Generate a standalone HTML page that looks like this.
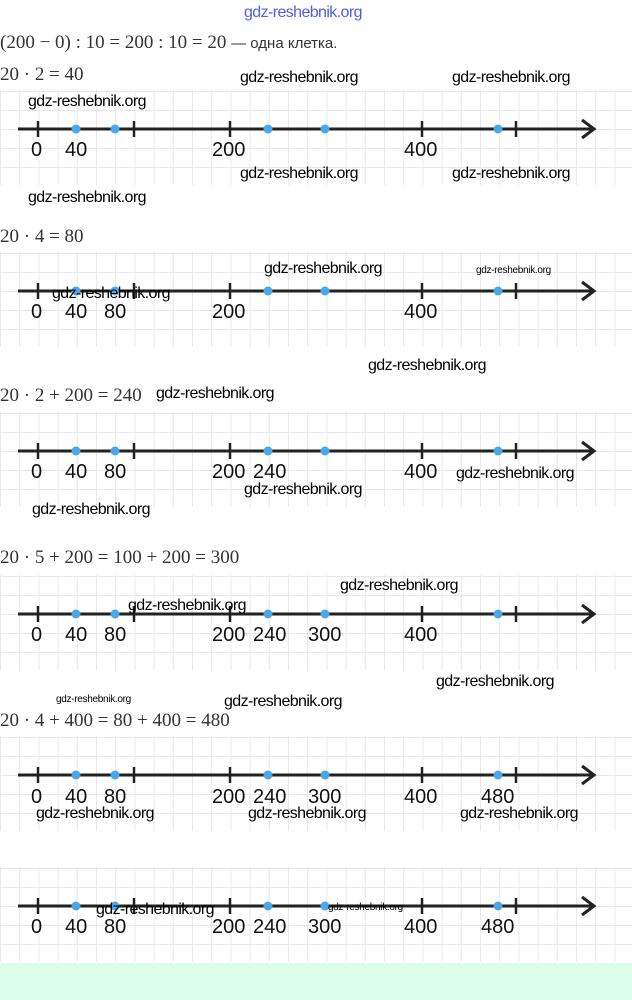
<!DOCTYPE html>
<html><head><meta charset="utf-8"><style>
body{margin:0;width:632px;height:1000px;background:#fff;overflow:hidden}
svg{display:block}
.eq{font-family:"Liberation Serif",serif;font-size:19px;fill:#333}
.wm{font-family:"Liberation Sans",sans-serif;font-size:16px;fill:#000;letter-spacing:-0.6px}
.lb{font-family:"Liberation Sans",sans-serif;font-size:20px;fill:#111}
</style></head><body>
<svg width="632" height="1000" viewBox="0 0 632 1000" xmlns="http://www.w3.org/2000/svg">
<defs>
<pattern id="g" x="0" y="0" width="19.2" height="19" patternUnits="userSpaceOnUse">
<path d="M0.5 0V19M0 0.5H19.2" stroke="#e8e8e8" stroke-width="1" fill="none"/>
</pattern>
<g id="axis">
<rect x="0" y="-39" width="632" height="95" fill="url(#g)"/>
<line x1="18" y1="0" x2="594" y2="0" stroke="#222" stroke-width="3"/>
<path d="M582 -9L594 0L582 9" stroke="#222" stroke-width="3" fill="none"/>
<g stroke="#222" stroke-width="2.5">
<line x1="38" y1="-8" x2="38" y2="8"/><line x1="134" y1="-8" x2="134" y2="8"/>
<line x1="230" y1="-8" x2="230" y2="8"/><line x1="422" y1="-8" x2="422" y2="8"/>
<line x1="516" y1="-8" x2="516" y2="8"/>
</g>
<g fill="#4aa8ea">
<circle cx="76" cy="0" r="4.5"/><circle cx="115" cy="0" r="4.5"/>
<circle cx="268" cy="0" r="4.5"/><circle cx="325" cy="0" r="4.5"/>
<circle cx="498" cy="0" r="4.5"/>
</g>
</g>
</defs>
<text x="244" y="17" style="font-family:'Liberation Sans',sans-serif;font-size:16px;fill:#5060e0;letter-spacing:-0.6px">gdz-reshebnik.org</text>
<text x="0" y="48" class="eq">(200 − 0) : 10 = 200 : 10 = 20 <tspan style="font-family:'Liberation Sans',sans-serif;font-size:15px">— одна клетка.</tspan></text>
<text x="0" y="80" class="eq">20 · 2 = 40</text>

<use href="#axis" y="129"/>
<g class="lb"><text x="31" y="156">0</text><text x="65" y="156">40</text><text x="212" y="156">200</text><text x="404" y="156">400</text></g>

<text x="0" y="242" class="eq">20 · 4 = 80</text>
<use href="#axis" y="291"/>
<g class="lb"><text x="31" y="318">0</text><text x="65" y="318">40</text><text x="104" y="318">80</text><text x="212" y="318">200</text><text x="404" y="318">400</text></g>

<text x="0" y="401" class="eq">20 · 2 + 200 = 240</text>
<use href="#axis" y="451"/>
<g class="lb"><text x="31" y="478">0</text><text x="65" y="478">40</text><text x="104" y="478">80</text><text x="212" y="478">200</text><text x="253" y="478">240</text><text x="404" y="478">400</text></g>

<text x="0" y="563" class="eq">20 · 5 + 200 = 100 + 200 = 300</text>
<use href="#axis" y="614"/>
<g class="lb"><text x="31" y="641">0</text><text x="65" y="641">40</text><text x="104" y="641">80</text><text x="212" y="641">200</text><text x="253" y="641">240</text><text x="308" y="641">300</text><text x="404" y="641">400</text></g>

<text x="0" y="726" class="eq">20 · 4 + 400 = 80 + 400 = 480</text>
<use href="#axis" y="775"/>
<g class="lb"><text x="31" y="803">0</text><text x="65" y="803">40</text><text x="104" y="803">80</text><text x="212" y="803">200</text><text x="253" y="803">240</text><text x="308" y="803">300</text><text x="404" y="803">400</text><text x="481" y="803">480</text></g>

<use href="#axis" y="906"/>
<g class="lb"><text x="31" y="933">0</text><text x="65" y="933">40</text><text x="104" y="933">80</text><text x="212" y="933">200</text><text x="253" y="933">240</text><text x="308" y="933">300</text><text x="404" y="933">400</text><text x="481" y="933">480</text></g>

<rect x="0" y="963" width="632" height="37" fill="#dcfde9"/>

<g class="wm">
<text x="240" y="82">gdz-reshebnik.org</text><text x="452" y="82">gdz-reshebnik.org</text>
<text x="28" y="106">gdz-reshebnik.org</text>
<text x="240" y="178">gdz-reshebnik.org</text><text x="452" y="178">gdz-reshebnik.org</text>
<text x="28" y="202">gdz-reshebnik.org</text>
<text x="264" y="273">gdz-reshebnik.org</text>
<text x="476" y="273" style="font-size:10px;letter-spacing:-0.3px">gdz-reshebnik.org</text>
<text x="52" y="298">gdz-reshebnik.org</text>
<text x="368" y="370">gdz-reshebnik.org</text>
<text x="156" y="398">gdz-reshebnik.org</text>
<text x="456" y="478">gdz-reshebnik.org</text>
<text x="244" y="494">gdz-reshebnik.org</text>
<text x="32" y="514">gdz-reshebnik.org</text>
<text x="340" y="590">gdz-reshebnik.org</text>
<text x="128" y="610">gdz-reshebnik.org</text>
<text x="436" y="686">gdz-reshebnik.org</text>
<text x="56" y="702" style="font-size:10px;letter-spacing:-0.3px">gdz-reshebnik.org</text>
<text x="224" y="706">gdz-reshebnik.org</text>
<text x="36" y="818">gdz-reshebnik.org</text><text x="248" y="818">gdz-reshebnik.org</text><text x="460" y="818">gdz-reshebnik.org</text>
<text x="96" y="914">gdz-reshebnik.org</text>
<text x="328" y="910" style="font-size:10px;letter-spacing:-0.3px">gdz-reshebnik.org</text>
</g>
</svg>
</body></html>
